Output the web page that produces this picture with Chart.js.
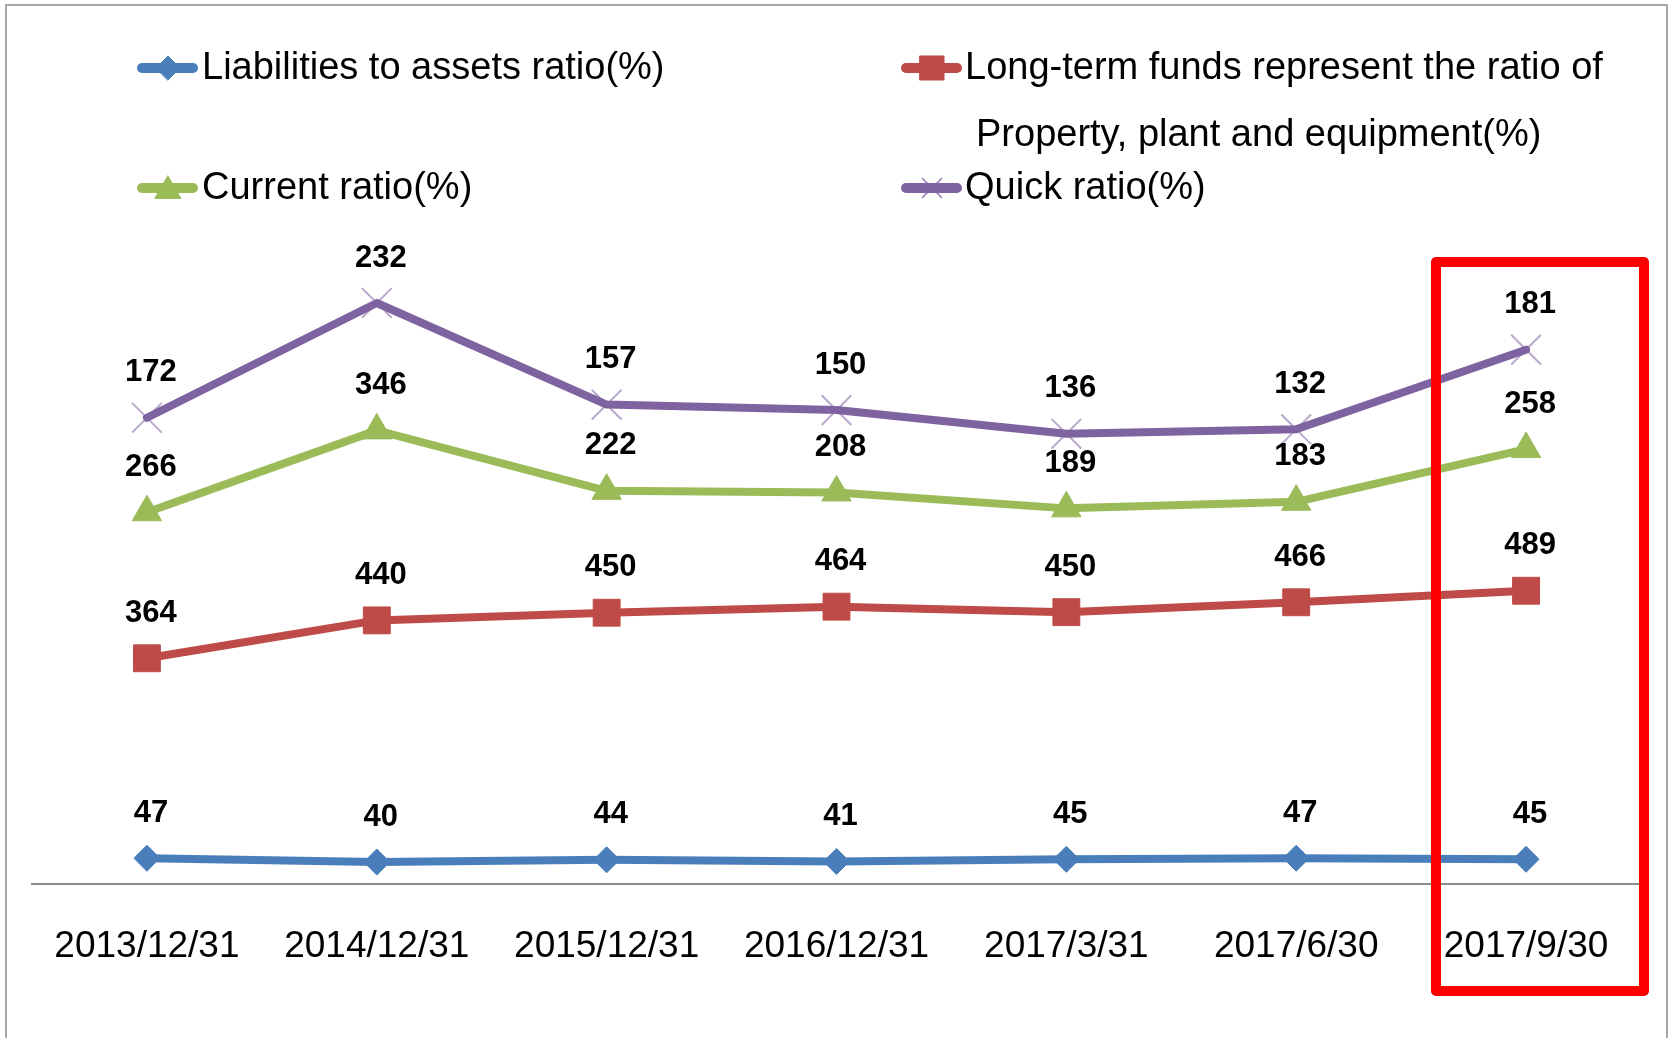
<!DOCTYPE html>
<html>
<head>
<meta charset="utf-8">
<script src="https://cdn.jsdelivr.net/npm/chart.js@4/dist/chart.umd.min.js"></script>
<style>
  html, body { margin: 0; padding: 0; background: #fff; }
  #wrap { width: 1672px; height: 1038px; position: relative; }
</style>
</head>
<body>
<div id="wrap"><canvas id="c" width="1672" height="1038"></canvas></div>
<script>
const categories = ['2013/12/31', '2014/12/31', '2015/12/31', '2016/12/31', '2017/3/31', '2017/6/30', '2017/9/30'];
const liabilities = [47, 40, 44, 41, 45, 47, 45];
const longTermFunds = [364, 440, 450, 464, 450, 466, 489];
const currentRatio = [266, 346, 222, 208, 189, 183, 258];
const quickRatio = [172, 232, 157, 150, 136, 132, 181];
const seriesNames = [
  'Liabilities to assets ratio(%)',
  'Long-term funds represent the ratio of Property, plant and equipment(%)',
  'Current ratio(%)',
  'Quick ratio(%)'
];
const yMax = 1200;

const FONT = '"Liberation Sans", Arial, Helvetica, sans-serif';
const BLUE = '#4A7EBB', RED = '#BE4B48', GREEN = '#9BBB59', PURPLE = '#7F63A1';

const legendPlugin = {
  id: 'customLegend',
  afterDraw(chart) {
    const ctx = chart.ctx;
    const items = [
      { color: BLUE, style: 'rectRot', r: 12, x: 137, y: 68, tx: 202, ty: 79, lines: ['Liabilities to assets ratio(%)'] },
      { color: RED, style: 'rect', r: 17, x: 901, y: 68, tx: 965, ty: 79, lines: ['Long-term funds represent the ratio of', 'Property, plant and equipment(%)'], dx2: 11, ty2: 146 },
      { color: GREEN, style: 'triangle', r: 15, x: 137, y: 188, tx: 202, ty: 199, lines: ['Current ratio(%)'] },
      { color: PURPLE, style: 'crossRot', r: 14, x: 901, y: 188, tx: 965, ty: 199, lines: ['Quick ratio(%)'] }
    ];
    ctx.save();
    items.forEach(it => {
      ctx.strokeStyle = it.color;
      ctx.lineWidth = 10;
      ctx.lineCap = 'round';
      ctx.beginPath();
      ctx.moveTo(it.x + 5, it.y);
      ctx.lineTo(it.x + 56, it.y);
      ctx.stroke();
      const mx = it.x + 31;
      if (it.style === 'crossRot') {
        ctx.save();
        ctx.strokeStyle = 'rgba(127,99,161,0.7)';
        ctx.lineWidth = 2;
        ctx.lineCap = 'butt';
        Chart.helpers.drawPoint(ctx, { pointStyle: 'crossRot', rotation: 0, radius: it.r, borderWidth: 2 }, mx, it.y);
        ctx.restore();
      } else {
        ctx.save();
        ctx.fillStyle = it.color;
        ctx.strokeStyle = it.color;
        ctx.lineWidth = 1;
        Chart.helpers.drawPoint(ctx, { pointStyle: it.style, rotation: 0, radius: it.r, borderWidth: 1 }, mx, it.y + (it.style === 'triangle' ? 3 : 0));
        ctx.restore();
      }
      ctx.fillStyle = '#000';
      ctx.font = '38px ' + FONT;
      ctx.textAlign = 'left';
      ctx.textBaseline = 'alphabetic';
      ctx.fillText(it.lines[0], it.tx, it.ty);
      if (it.lines[1]) ctx.fillText(it.lines[1], it.tx + it.dx2, it.ty2);
    });
    ctx.restore();
  }
};

const labelPlugin = {
  id: 'valueLabels',
  afterDatasetsDraw(chart) {
    const ctx = chart.ctx;
    ctx.save();
    ctx.font = 'bold 31px ' + FONT;
    ctx.fillStyle = '#000';
    ctx.textAlign = 'center';
    ctx.textBaseline = 'middle';
    chart.data.datasets.forEach((ds, i) => {
      const meta = chart.getDatasetMeta(i);
      meta.data.forEach((pt, j) => {
        ctx.fillText(String(ds.data[j]), pt.x + 4, pt.y - 45);
      });
    });
    ctx.restore();
  }
};

const framePlugin = {
  id: 'frame',
  beforeDraw(chart) {
    const ctx = chart.ctx;
    ctx.save();
    ctx.fillStyle = '#fff';
    ctx.fillRect(0, 0, chart.width, chart.height);
    ctx.restore();
  },
  afterDraw(chart) {
    const ctx = chart.ctx;
    const xs = chart.scales.x;
    const area = chart.chartArea;
    ctx.save();
    ctx.strokeStyle = '#A6A6A6';
    ctx.lineWidth = 2;
    ctx.strokeRect(6, 5, 1661, 1100);
    const last = categories.length - 1;
    const px = xs.getPixelForValue(last);
    const w = xs.getPixelForValue(1) - xs.getPixelForValue(0);
    const left = px - 0.392 * w, right = px + 0.513 * w;
    const top = area.top + 37, bottom = area.bottom + 107;
    ctx.strokeStyle = '#FF0000';
    ctx.lineWidth = 10;
    ctx.lineJoin = 'round';
    ctx.strokeRect(left, top, right - left, bottom - top);
    ctx.restore();
  }
};

function lineDs(label, data, color, style, radius, ptBorder, ptBorderW) {
  return {
    label, data,
    borderColor: color,
    backgroundColor: color,
    borderWidth: 8,
    fill: false,
    tension: 0,
    pointStyle: style,
    pointRadius: radius,
    pointHoverRadius: radius,
    pointBackgroundColor: color,
    pointBorderColor: ptBorder,
    pointBorderWidth: ptBorderW,
    borderJoinStyle: 'round',
    borderCapStyle: 'round'
  };
}

new Chart(document.getElementById('c'), {
  type: 'line',
  data: {
    labels: categories,
    datasets: [
      lineDs(seriesNames[0], liabilities, BLUE, 'rectRot', 13, BLUE, 1),
      lineDs(seriesNames[1], longTermFunds, RED, 'rect', 19, RED, 1),
      lineDs(seriesNames[2], currentRatio, GREEN, 'triangle', 17, GREEN, 1),
      lineDs(seriesNames[3], quickRatio, PURPLE, 'crossRot', 21, 'rgba(127,99,161,0.55)', 2)
    ]
  },
  options: {
    responsive: false,
    animation: false,
    events: [],
    layout: { padding: { top: 225, left: 32, right: 31, bottom: 0 } },
    plugins: { legend: { display: false }, tooltip: { enabled: false }, title: { display: false } },
    scales: {
      x: {
        type: 'category',
        offset: true,
        grid: { display: false },
        border: { display: true, color: '#8C8C8C', width: 2 },
        ticks: { color: '#000', font: { family: FONT, size: 37 }, padding: 33, maxRotation: 0, autoSkip: false },
        afterFit(scale) { scale.height = 154; }
      },
      y: {
        display: false,
        stacked: true,
        min: 0,
        max: yMax
      }
    }
  },
  plugins: [framePlugin, legendPlugin, labelPlugin]
});
</script>
</body>
</html>
